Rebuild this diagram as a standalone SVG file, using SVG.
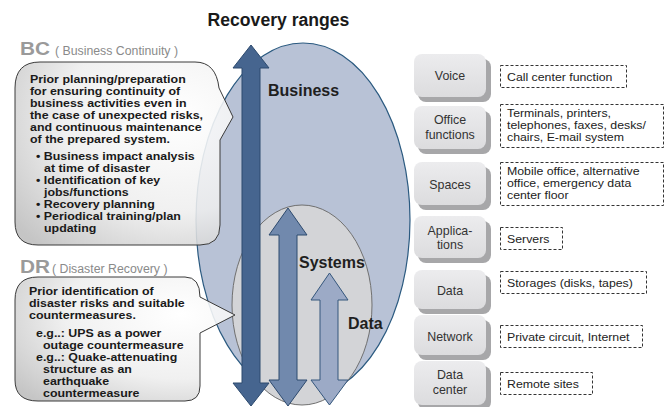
<svg xmlns="http://www.w3.org/2000/svg" width="670" height="407" viewBox="0 0 670 407">
<defs>
<radialGradient id="bub" cx="0.75" cy="0.3" r="0.95">
<stop offset="0" stop-color="#ffffff"/>
<stop offset="0.55" stop-color="#eeeeee"/>
<stop offset="1" stop-color="#bdbdbd"/>
</radialGradient>
<linearGradient id="box" x1="0" y1="0" x2="0" y2="1">
<stop offset="0" stop-color="#ececee"/>
<stop offset="1" stop-color="#dcdcde"/>
</linearGradient>
<style>
.t{font-family:"Liberation Sans",Arial,sans-serif}
.b{font-weight:bold}
.body{font-size:10.7px;font-weight:bold;fill:#1a1a1a}
.hd{font-size:19px;font-weight:bold;fill:#9a9a9a}
.sub{font-size:12.3px;fill:#8a8a8a}
.lbl{font-size:16px;font-weight:bold;fill:#1f1f1f}
.bx{fill:url(#box)}
.sh{fill:#a7a7a9}
.bt{font-size:12.4px;fill:#333;text-anchor:middle}
.db{fill:#fff;stroke:#333;stroke-width:1;stroke-dasharray:3,2}
.dt{font-size:10.8px;fill:#222}
.bubble{fill:url(#bub);fill-opacity:0.88;stroke:#3a3a3a;stroke-width:1}
</style>
</defs>
<rect width="670" height="407" fill="#fff"/>
<text class="t b" x="278.5" y="26" font-size="17.6" text-anchor="middle" fill="#1a1a1a">Recovery ranges</text>

<g id="ranges">
<ellipse cx="303" cy="220" rx="107" ry="177" fill="#b8c2d6" stroke="#2b5a80" stroke-width="1.2"/>
<ellipse cx="302" cy="305" rx="70" ry="100" fill="#d3d4d7" stroke="#707070" stroke-width="1"/>
</g>

<g id="bc">
<text class="t hd" x="20" y="55" textLength="30" lengthAdjust="spacingAndGlyphs">BC</text>
<text class="t sub" x="55" y="55">( Business Continuity )</text>
<path class="bubble" d="M40,62 L195,62 Q216,62 219,88 L233,117 L220,140 L220,225 Q220,245 200,245 L38,245 Q15,245 15,222 L15,88 Q15,62 40,62 Z"/>
<g class="t body" transform="matrix(1.16 0 0 1 0 0)">
<text x="25.86" y="83">Prior planning/preparation</text>
<text x="25.86" y="95">for ensuring continuity of</text>
<text x="25.86" y="107">business activities even in</text>
<text x="25.86" y="119">the case of unexpected risks,</text>
<text x="25.86" y="131">and continuous maintenance</text>
<text x="25.86" y="143">of the prepared system.</text>
<text x="31.03" y="160">• Business impact analysis</text>
<text x="37.93" y="172">at time of disaster</text>
<text x="31.03" y="184">• Identification of key</text>
<text x="37.93" y="196">jobs/functions</text>
<text x="31.03" y="208">• Recovery planning</text>
<text x="31.03" y="220">• Periodical training/plan</text>
<text x="37.93" y="232">updating</text>
</g>
</g>

<g id="dr">
<text class="t hd" x="20" y="273" textLength="30" lengthAdjust="spacingAndGlyphs">DR</text>
<text class="t sub" x="52" y="273">( Disaster Recovery )</text>
<path class="bubble" d="M38,277 L185,277 Q200,277 200,297 L235,315 L200,333 L200,386 Q200,401 185,401 L38,401 Q15,401 15,380 L15,300 Q15,277 38,277 Z"/>
<g class="t body" transform="matrix(1.16 0 0 1 0 0)">
<text x="25" y="295">Prior identification of</text>
<text x="25" y="307">disaster risks and suitable</text>
<text x="25" y="319">countermeasures.</text>
<text x="31.03" y="337">e.g..: UPS as a power</text>
<text x="37.07" y="349">outage countermeasure</text>
<text x="31.03" y="361">e.g..: Quake-attenuating</text>
<text x="37.07" y="373">structure as an</text>
<text x="37.07" y="385">earthquake</text>
<text x="37.07" y="397">countermeasure</text>
</g>
</g>

<g id="arrows" stroke-linejoin="miter">
<polygon points="251,45 269,68 260,68 260,383 269,383 251,406 233,383 242,383 242,68 233,68" fill="#46658f" stroke="#2d4a6e" stroke-width="1"/>
<polygon points="288,208 307,235 297,235 297,380 307,380 288,406 269,380 279,380 279,235 269,235" fill="#7189ad" stroke="#2d4a6e" stroke-width="1"/>
<polygon points="329.5,273 348,300 338,300 338,380 348,380 329.5,405 311,380 320,380 320,300 311,300" fill="#9caac6" stroke="#34567c" stroke-width="1"/>
</g>
<text class="t lbl" x="268" y="96">Business</text>
<text class="t lbl" x="299" y="268">Systems</text>
<text class="t lbl" x="348" y="329">Data</text>

<g id="voice">
<rect class="sh" x="418" y="59" width="73" height="43" rx="8"/>
<rect class="bx" x="414" y="54" width="72" height="43" rx="8"/>
<text class="t bt" x="450" y="80">Voice</text>
<rect class="db" x="500.5" y="65.5" width="126" height="22"/>
<g class="t dt" transform="matrix(1.14 0 0 1 0 0)"><text x="444.74" y="81">Call center function</text></g>
</g>
<g id="office">
<rect class="sh" x="418" y="111" width="73" height="43" rx="8"/>
<rect class="bx" x="414" y="106" width="72" height="43" rx="8"/>
<text class="t bt" x="450" y="124">Office</text>
<text class="t bt" x="450" y="139">functions</text>
<rect class="db" x="500.5" y="104.5" width="163" height="43"/>
<g class="t dt" transform="matrix(1.14 0 0 1 0 0)">
<text x="444.74" y="117">Terminals, printers,</text>
<text x="444.74" y="129">telephones, faxes, desks/</text>
<text x="444.74" y="141">chairs, E-mail system</text>
</g>
</g>
<g id="spaces">
<rect class="sh" x="418" y="167" width="73" height="43" rx="8"/>
<rect class="bx" x="414" y="162" width="72" height="43" rx="8"/>
<text class="t bt" x="450" y="189">Spaces</text>
<rect class="db" x="500.5" y="162.5" width="163" height="43"/>
<g class="t dt" transform="matrix(1.14 0 0 1 0 0)">
<text x="444.74" y="175">Mobile office, alternative</text>
<text x="444.74" y="187">office, emergency data</text>
<text x="444.74" y="199">center floor</text>
</g>
</g>
<g id="applications">
<rect class="sh" x="418" y="221" width="73" height="42" rx="8"/>
<rect class="bx" x="414" y="216" width="72" height="42" rx="8"/>
<text class="t bt" x="450" y="235">Applica-</text>
<text class="t bt" x="450" y="249">tions</text>
<rect class="db" x="500.5" y="227.5" width="62" height="22"/>
<g class="t dt" transform="matrix(1.14 0 0 1 0 0)"><text x="444.74" y="243">Servers</text></g>
</g>
<g id="data">
<rect class="sh" x="418" y="275" width="73" height="39" rx="8"/>
<rect class="bx" x="414" y="270" width="72" height="39" rx="8"/>
<text class="t bt" x="450" y="295">Data</text>
<rect class="db" x="500.5" y="271.5" width="146" height="22"/>
<g class="t dt" transform="matrix(1.14 0 0 1 0 0)"><text x="444.74" y="287">Storages (disks, tapes)</text></g>
</g>
<g id="network">
<rect class="sh" x="418" y="320" width="73" height="40" rx="8"/>
<rect class="bx" x="414" y="315" width="72" height="40" rx="8"/>
<text class="t bt" x="450" y="341">Network</text>
<rect class="db" x="500.5" y="325.5" width="142" height="22"/>
<g class="t dt" transform="matrix(1.14 0 0 1 0 0)"><text x="444.74" y="341">Private circuit, Internet</text></g>
</g>
<g id="datacenter">
<rect class="sh" x="418" y="366" width="73" height="44" rx="8"/>
<rect class="bx" x="414" y="361" width="72" height="44" rx="8"/>
<text class="t bt" x="450" y="379">Data</text>
<text class="t bt" x="450" y="394">center</text>
<rect class="db" x="500.5" y="372.5" width="92" height="22"/>
<g class="t dt" transform="matrix(1.14 0 0 1 0 0)"><text x="444.74" y="388">Remote sites</text></g>
</g>
</svg>
